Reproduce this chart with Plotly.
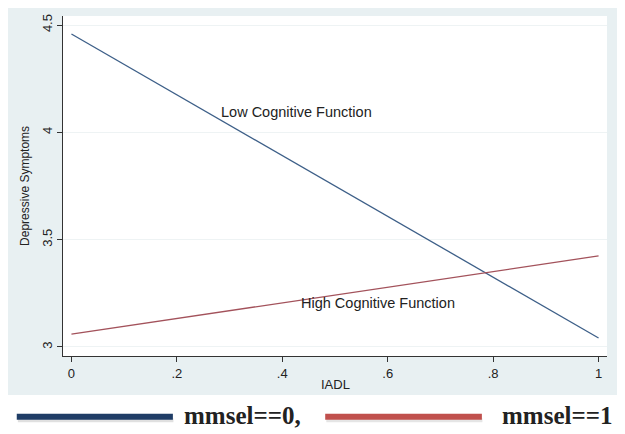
import plotly.graph_objects as go

# Data
iadl = [0, 1]
low_cog = [4.458, 3.042]   # mmsel==0
high_cog = [3.06, 3.424]   # mmsel==1
x_tickvals = [0, 0.2, 0.4, 0.6, 0.8, 1]
x_ticktext = ["0", ".2", ".4", ".6", ".8", "1"]
y_tickvals = [3, 3.5, 4, 4.5]
y_ticktext = ["3", "3.5", "4", "4.5"]
legend_labels = ["mmsel==0,", "mmsel==1"]

blue = "#3d5f88"
red = "#a3525b"
sans = "Liberation Sans, Arial"
serif = "Liberation Serif, Times New Roman"

fig = go.Figure()
fig.add_trace(go.Scatter(x=iadl, y=low_cog, mode="lines",
                         line=dict(color=blue, width=1.3), showlegend=False))
fig.add_trace(go.Scatter(x=iadl, y=high_cog, mode="lines",
                         line=dict(color=red, width=1.3), showlegend=False))

fig.add_annotation(x=0.427, y=4.095, text="Low Cognitive Function", showarrow=False,
                   font=dict(family=sans, size=14.5, color="#222"))
fig.add_annotation(x=0.582, y=3.205, text="High Cognitive Function", showarrow=False,
                   font=dict(family=sans, size=14.5, color="#222"))

# axis titles
fig.add_annotation(xref="paper", yref="paper", x=0.5, y=-0.085, text="IADL", showarrow=False,
                   yanchor="middle", font=dict(family=sans, size=13, color="#222"))
fig.add_annotation(xref="paper", yref="paper", x=-0.07, y=0.5, text="Depressive Symptoms",
                   showarrow=False, textangle=-90, xanchor="center",
                   font=dict(family=sans, size=12, color="#222"))

# white band at bottom for the legend
fig.add_shape(type="rect", xref="paper", yref="paper", x0=-0.2, x1=1.2,
              y0=-0.35, y1=-0.115, fillcolor="white", line=dict(width=0), layer="below")
# legend lines (shadow + line)
fig.add_shape(type="line", xref="paper", yref="paper", x0=-0.083, x1=0.203, y0=-0.189, y1=-0.189,
              line=dict(color="rgba(0,0,0,0.12)", width=4))
fig.add_shape(type="line", xref="paper", yref="paper", x0=-0.085, x1=0.202, y0=-0.179, y1=-0.179,
              line=dict(color="#1f3d66", width=6))
fig.add_shape(type="line", xref="paper", yref="paper", x0=0.484, x1=0.771, y0=-0.189, y1=-0.189,
              line=dict(color="rgba(0,0,0,0.10)", width=4))
fig.add_shape(type="line", xref="paper", yref="paper", x0=0.482, x1=0.770, y0=-0.179, y1=-0.179,
              line=dict(color="#c0504d", width=6))
fig.add_annotation(xref="paper", yref="paper", x=0.219, y=-0.174, xanchor="left", yanchor="middle",
                   text="<b>" + legend_labels[0] + "</b>", showarrow=False,
                   font=dict(family=serif, size=25, color="#222"))
fig.add_annotation(xref="paper", yref="paper", x=0.803, y=-0.174, xanchor="left", yanchor="middle",
                   text="<b>" + legend_labels[1] + "</b>", showarrow=False,
                   font=dict(family=serif, size=25, color="#222"))

fig.update_layout(
    width=625, height=434,
    margin=dict(l=55, r=26, t=8, b=86),
    paper_bgcolor="#e8f0f2",
    plot_bgcolor="white",
    font=dict(family=sans, size=13, color="#222"),
    xaxis=dict(range=[-0.016, 1.016], tickvals=x_tickvals, ticktext=x_ticktext,
               showgrid=False, zeroline=False, showline=True, linecolor="#333", linewidth=1,
               ticks="outside", ticklen=5, tickcolor="#333", automargin=False),
    yaxis=dict(range=[2.958, 4.542], tickvals=y_tickvals, ticktext=y_ticktext,
               tickangle=-90, showgrid=True, gridcolor="#eef3f4", gridwidth=1,
               zeroline=False, showline=True, linecolor="#333", linewidth=1,
               ticks="outside", ticklen=5, tickcolor="#333", automargin=False),
)

fig.write_html("out.html")
